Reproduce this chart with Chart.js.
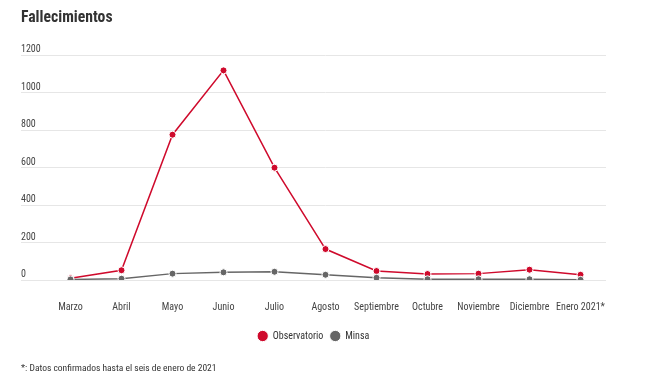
<!DOCTYPE html>
<html>
<head>
<meta charset="utf-8">
<script src="https://cdn.jsdelivr.net/npm/chart.js@4/dist/chart.umd.min.js"></script>
<style>
html,body{margin:0;padding:0;background:#fff;}
canvas{display:block;}
</style>
</head>
<body>
<canvas id="c" width="663" height="382"></canvas>
<script>
const categories = ['Marzo','Abril','Mayo','Junio','Julio','Agosto','Septiembre','Octubre','Noviembre','Diciembre','Enero 2021*'];
const observatorio = [9, 52, 775, 1118, 599, 165, 48, 32, 34, 55, 28];
const minsa = [3, 7, 34, 41, 44, 28, 12, 4, 4, 4, 1];
const seriesNames = ['Observatorio', 'Minsa'];
const yTicks = [0, 200, 400, 600, 800, 1000, 1200];
const titleText = 'Fallecimientos';
const footnote = '*: Datos confirmados hasta el seis de enero de 2021';

const FONT = '"Roboto Condensed", "Liberation Sans Narrow", Lato, sans-serif';
const RED = '#cf0a2c';
const GRAY = '#666666';

new Chart(document.getElementById('c'), {
  type: 'line',
  data: {
    labels: categories,
    datasets: [
      {
        label: seriesNames[0], data: observatorio, order: 1,
        borderColor: RED, backgroundColor: RED, borderWidth: 1.5,
        pointRadius: 3.5, pointBackgroundColor: RED, pointBorderColor: '#ffffff', pointBorderWidth: 1,
        tension: 0
      },
      {
        label: seriesNames[1], data: minsa, order: 0,
        borderColor: GRAY, backgroundColor: GRAY, borderWidth: 1.5,
        pointRadius: 3.5, pointBackgroundColor: GRAY, pointBorderColor: '#ffffff', pointBorderWidth: 1,
        tension: 0
      }
    ]
  },
  options: {
    responsive: false,
    animation: false,
    devicePixelRatio: 1,
    layout: { padding: { left: 21, right: 57, top: 0, bottom: 0 } },
    font: { family: FONT },
    plugins: {
      title: {
        display: true, text: titleText, align: 'start', color: '#333333',
        font: { family: FONT, size: 15.7, weight: 'bold', lineHeight: 1.2 },
        padding: { top: 8.6, bottom: 27.56 }
      },
      subtitle: {
        display: true, text: footnote, position: 'bottom', align: 'start', color: '#333333',
        font: { family: FONT, size: 9.5, lineHeight: 1.2 },
        padding: { top: 12.3, bottom: 7.3 }
      },
      legend: {
        position: 'bottom', align: 'center',
        labels: {
          usePointStyle: true, pointStyle: 'circle', boxWidth: 10, boxHeight: 8,
          padding: 7, color: '#333333',
          font: { family: FONT, size: 10 },
          sort: (a, b) => a.datasetIndex - b.datasetIndex
        }
      },
      tooltip: { enabled: false }
    },
    scales: {
      x: {
        type: 'category', offset: true,
        grid: { display: false, drawTicks: false },
        border: { display: false },
        ticks: {
          color: '#444444', font: { family: FONT, size: 10 },
          padding: 21.7, maxRotation: 0, autoSkip: false
        },
        afterFit: s => { s.height -= 11.4; }
      },
      y: {
        min: 0, max: 1200,
        afterBuildTicks: s => { s.ticks = yTicks.map(v => ({ value: v })); },
        grid: { color: '#e6e6e6', lineWidth: 1, drawTicks: true, tickLength: 24 },
        border: { display: false },
        ticks: {
          color: '#444444', font: { family: FONT, size: 10 },
          crossAlign: 'far', labelOffset: -5.5, padding: 0,
          callback: v => String(v)
        },
        afterFit: s => { s.width = 24; }
      }
    }
  }
});
</script>
</body>
</html>
